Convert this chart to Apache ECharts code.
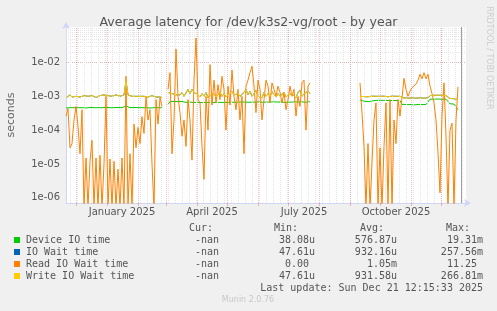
<!DOCTYPE html>
<html>
<head>
<meta charset="utf-8">
<script src="https://cdn.jsdelivr.net/npm/echarts@6/dist/echarts.min.js"></script>
<style>
html, body { margin: 0; padding: 0; background: #f0f0f0; }
#echarts_id { width: 497px; height: 311px; }
</style>
</head>
<body>
<div id="echarts_id"></div>
<script>
// x counted in days from 2024-11-21 (left edge of the year graph), one sample every 2 days
var step = 2;
var segStart = [0, 102, 294];

// month starts (red major grid) and the quarter labels (centred mid-month)
var monthStarts = [10, 41, 72, 100, 131, 161, 192, 222, 253, 284, 314, 345, 375];
var labelDays = [56, 146, 238, 330];
var tickLabels = ['January 2025', 'April 2025', 'July 2025', 'October 2025'];
var nowDay = 395;

// Device IO time
var deviceSeg1 = [4.5e-4, 4.6e-4, 4.6e-4, 4.5e-4, 4.6e-4, 4.7e-4, 4.6e-4, 4.5e-4, 4.6e-4, 4.6e-4,
    4.5e-4, 4.6e-4, 4.7e-4, 4.6e-4, 4.6e-4, 4.5e-4, 4.6e-4, 4.7e-4, 4.6e-4, 4.6e-4,
    4.7e-4, 4.6e-4, 4.6e-4, 4.7e-4, 4.6e-4, 4.6e-4, 4.7e-4, 4.6e-4, 4.6e-4, 4.7e-4,
    5.2e-4, 4.7e-4, 4.6e-4, 4.6e-4, 4.7e-4, 4.6e-4, 4.6e-4, 4.7e-4, 4.6e-4, 4.5e-4,
    4.6e-4, 4.6e-4, 4.5e-4, 4.6e-4, 4.6e-4, 4.5e-4, 4.6e-4, 4.5e-4, 4.6e-4];
var deviceSeg2 = [5.7e-4, 7.0e-4, 7.1e-4, 7.0e-4, 7.1e-4, 7.0e-4, 6.9e-4, 7.0e-4, 6.8e-4, 6.6e-4,
    6.6e-4, 6.7e-4, 6.6e-4, 6.6e-4, 6.7e-4, 6.6e-4, 6.6e-4, 6.5e-4, 6.6e-4, 6.6e-4,
    6.7e-4, 6.6e-4, 6.6e-4, 6.5e-4, 6.6e-4, 6.6e-4, 6.7e-4, 6.6e-4, 6.6e-4, 6.6e-4,
    6.7e-4, 6.6e-4, 6.6e-4, 6.7e-4, 6.8e-4, 6.7e-4, 6.7e-4, 6.8e-4, 6.7e-4, 6.7e-4,
    6.8e-4, 6.7e-4, 6.8e-4, 6.7e-4, 6.7e-4, 6.8e-4, 6.8e-4, 6.7e-4, 6.8e-4, 6.7e-4,
    6.8e-4, 6.8e-4, 6.7e-4, 6.8e-4, 6.7e-4, 6.8e-4, 6.8e-4, 6.7e-4, 6.8e-4, 6.6e-4,
    6.8e-4, 6.7e-4, 6.8e-4, 6.8e-4, 6.7e-4, 6.8e-4, 6.7e-4, 6.8e-4, 6.8e-4, 6.7e-4,
    6.8e-4, 6.9e-4];
var deviceSeg3 = [7.8e-4, 7.6e-4, 7.2e-4, 6.8e-4, 6.9e-4, 6.8e-4, 7.3e-4, 7.5e-4, 7.6e-4, 7.5e-4,
    7.6e-4, 7.5e-4, 7.6e-4, 7.6e-4, 7.5e-4, 7.6e-4, 7.5e-4, 7.6e-4, 7.5e-4, 7.4e-4, 7.5e-4,
    5.8e-4, 5.7e-4, 5.7e-4, 5.6e-4, 5.7e-4, 5.7e-4, 5.6e-4, 5.7e-4, 5.7e-4, 5.6e-4, 5.7e-4, 5.6e-4, 5.7e-4, 5.7e-4,
    8.2e-4, 8.3e-4, 8.3e-4, 8.2e-4, 8.3e-4, 8.3e-4, 8.2e-4, 8.3e-4, 8.2e-4,
    7.0e-4, 6.0e-4, 5.8e-4, 5.9e-4, 5.6e-4, 4.0e-4];

// Read IO Wait time (5e-7 = zero, drawn at the bottom edge)
var readSeg1 = [2.6e-4, 4.3e-4, 3e-5, 4e-5, 2e-4, 5e-4, 1.3e-4, 2e-5, 4e-4, 5e-7,
    1.5e-5, 5e-7, 1.2e-5, 5e-5, 5e-7, 1.5e-5, 5e-7, 1.8e-5, 5e-7, 1e-5,
    1e-3, 5e-7, 1.4e-5, 5e-7, 1.2e-5, 5e-7, 7e-6, 5e-7, 1.5e-5, 5e-7,
    3.9e-3, 5e-7, 2e-5, 5e-7, 1.5e-4, 3e-5, 1.2e-4, 4e-5, 2.5e-4, 8e-5,
    1e-3, 2e-4, 4e-4, 1e-5, 5e-7, 8e-4, 1.5e-4, 9e-4, 5e-4];
var readSeg2 = [1.6e-3, 5e-3, 2e-5, 2e-4, 2.5e-2,
    1e-3, 3.3e-4, 6.6e-5, 2e-4, 3.3e-5, 8e-4, 2e-4, 1.3e-5, 3e-3, 5.3e-2,
    8e-4, 6.4e-4, 3.3e-5, 3.5e-6, 1e-3, 1e-4, 8.6e-3, 5.5e-4, 3e-3, 6.4e-4,
    2.2e-3, 8e-4, 3.9e-3, 1.6e-3, 1e-4, 2e-3, 5.5e-4, 6e-3, 1e-3, 4e-4,
    1.6e-3, 2e-4, 1e-3, 2e-5, 2e-3, 3e-3, 5e-3, 7.7e-3, 2e-3, 3.3e-4,
    3e-3, 1.6e-3, 2e-4, 8e-4, 3e-3, 2e-3, 6.4e-4, 2.5e-3, 1.6e-3, 1e-3,
    2e-3, 1.3e-3, 6.4e-4, 1.3e-3, 4e-4, 8e-4, 2e-3, 1e-3, 1.6e-3, 2.6e-4,
    1e-3, 5e-4, 2.5e-3, 3e-3, 1e-4, 2e-3, 2.5e-3];
var readSeg3 = [2.5e-3, 3.2e-4, 3.3e-5, 5e-7, 4e-5, 5e-7, 1.1e-5, 2e-4, 6.4e-4, 5e-7,
    3e-5, 5e-7, 3.3e-5, 6.4e-4, 5e-7, 8e-4, 5e-7, 2e-4, 4e-5, 8e-4,
    2.6e-4, 9e-4, 3.4e-3, 1.6e-3, 1e-3, 1.4e-3, 1.8e-3, 2e-3, 2.3e-3, 3e-3,
    4.5e-3, 3.3e-3, 5e-3, 3.3e-3, 4.5e-3, 2e-3, 1.2e-3, 6.4e-4, 2e-4, 2.1e-5,
    1.4e-6, 2.6e-4, 2.5e-3, 6.6e-5, 5e-7, 1e-4, 1.6e-4, 5e-7, 2e-4, 1.9e-3];

// Write IO Wait time
var writeSeg1 = [9.0e-4, 1.0e-3, 1.1e-3, 9.5e-4, 1.05e-3, 1.0e-3, 1.1e-3, 9.5e-4, 1.0e-3, 1.05e-3,
    9.5e-4, 1.0e-3, 9.5e-4, 1.05e-3, 1.0e-3, 9.2e-4, 1.0e-3, 1.05e-3, 1.0e-3, 1.1e-3,
    1.0e-3, 1.05e-3, 1.1e-3, 1.0e-3, 1.05e-3, 1.1e-3, 1.05e-3, 1.0e-3, 1.05e-3, 1.1e-3,
    2.8e-3, 1.1e-3, 1.05e-3, 1.0e-3, 1.05e-3, 1.0e-3, 1.05e-3, 1.0e-3, 1.05e-3, 1.0e-3,
    1.05e-3, 9.5e-4, 1.0e-3, 1.05e-3, 1.0e-3, 9.5e-4, 1.0e-3, 9.5e-4, 9.2e-4];
var writeSeg2 = [1.3e-3, 1.25e-3, 1.2e-3, 1.3e-3, 1.1e-3,
    1.0e-3, 1.1e-3, 1.3e-3, 1.0e-3, 1.1e-3, 1.6e-3, 1.2e-3, 1.6e-3, 1.3e-3, 1.4e-3,
    1.1e-3, 9.5e-4, 1.2e-3, 1.0e-3, 1.3e-3, 9e-4, 1.1e-3, 1.0e-3, 1.2e-3, 9.5e-4,
    1.1e-3, 1.3e-3, 1.0e-3, 1.2e-3, 9.5e-4, 1.1e-3, 1.0e-3, 1.4e-3, 1.1e-3, 1.0e-3,
    1.2e-3, 1.0e-3, 9e-4, 1.3e-3, 1.6e-3, 1.1e-3, 1.4e-3, 1.0e-3, 1.2e-3, 1.5e-3,
    1.0e-3, 1.1e-3, 9e-4, 1.3e-3, 1.0e-3, 1.2e-3, 1.0e-3, 1.4e-3, 1.1e-3, 9.5e-4,
    1.2e-3, 1.0e-3, 1.1e-3, 1.3e-3, 9.5e-4, 1.1e-3, 1.0e-3, 1.2e-3, 1.1e-3, 9e-4,
    1.3e-3, 1.5e-3, 1.0e-3, 1.2e-3, 1.1e-3, 1.4e-3, 1.2e-3];
var writeSeg3 = [1.0e-3, 1.02e-3, 9.8e-4, 1.0e-3, 9.7e-4, 1.0e-3, 1.01e-3, 9.8e-4, 1.0e-3, 1.02e-3,
    1.0e-3, 9.8e-4, 1.01e-3, 1.0e-3, 9.7e-4, 1.0e-3, 1.01e-3, 9.8e-4, 1.0e-3, 1.01e-3, 1.0e-3,
    9.0e-4, 8.9e-4, 9.0e-4, 8.8e-4, 8.9e-4, 9.0e-4, 8.9e-4, 8.8e-4, 8.9e-4, 9.0e-4, 8.9e-4, 8.8e-4, 8.9e-4, 9.0e-4,
    1.05e-3, 1.1e-3, 1.08e-3, 1.1e-3, 1.07e-3, 1.1e-3, 1.08e-3, 1.1e-3, 1.05e-3,
    9.2e-4, 8.6e-4, 8.4e-4, 8.5e-4, 9.6e-4, 8.0e-4];

// IO Wait time is drawn under Write IO Wait time and reads the same off the picture
var ioWaitSeg1 = writeSeg1.slice();
var ioWaitSeg2 = writeSeg2.slice();
var ioWaitSeg3 = writeSeg3.slice();

// legend table
var legendNames = ['Device IO time', 'IO Wait time', 'Read IO Wait time', 'Write IO Wait time'];
var legendColors = ['#00cc00', '#0066b3', '#ff8000', '#ffcc00'];
var curVals = ['-nan', '-nan', '-nan', '-nan'];
var minVals = ['38.08u', '47.61u', '0.00 ', '47.61u'];
var avgVals = ['576.87u', '932.16u', '1.05m', '931.58u'];
var maxVals = ['19.31m', '257.56m', '11.25 ', '266.81m'];

function buildData(parts) {
    var out = [];
    parts.forEach(function (vals, s) {
        vals.forEach(function (v, i) {
            out.push([segStart[s] + i * step, v]);
        });
        out.push([segStart[s] + vals.length * step, '-']);
    });
    return out;
}

var myChart = echarts.init(document.getElementById('echarts_id'));

// grid lines (rrdtool style): grey dotted minor, red dotted major
var gridLines = [];
var gray = '#e4e4e4';
var red = 'rgba(230,120,120,0.45)';
for (var e = -7; e <= -1; e++) {
    for (var m = 1; m <= 9; m++) {
        var v = m * Math.pow(10, e);
        if (v < 7e-7 || v > 0.112) continue;
        var major = (m === 1 && e <= -2);
        gridLines.push({ yAxis: v, lineStyle: { color: major ? red : gray, type: [1, 1], width: 1 } });
    }
}
for (var w = 4; w < 400; w += 7) {
    gridLines.push({ xAxis: w, lineStyle: { color: gray, type: [1, 1], width: 1 } });
}
monthStarts.forEach(function (d) {
    gridLines.push({ xAxis: d, lineStyle: { color: red, type: [1, 1], width: 1 } });
});
gridLines.push({ xAxis: nowDay, lineStyle: { color: '#a0a0a0', type: 'solid', width: 1 } });

function lineSeries(name, color, parts, z) {
    return {
        name: name,
        type: 'line',
        data: buildData(parts),
        showSymbol: false,
        symbol: 'none',
        connectNulls: false,
        z: z,
        lineStyle: { color: color, width: 1 },
        itemStyle: { color: color }
    };
}

var legendGraphics = [];
var rowY = [240, 252, 264, 276];
var mono = '10px "DejaVu Sans Mono", monospace';
var txt = '#555555';
function addText(str, x, y, align) {
    legendGraphics.push({
        type: 'text', x: x, y: y,
        style: { text: str, fill: txt, font: mono, align: align, verticalAlign: 'middle' }
    });
}
addText('Cur:', 213, 228, 'right');
addText('Min:', 298, 228, 'right');
addText('Avg:', 384, 228, 'right');
addText('Max:', 470, 228, 'right');
legendNames.forEach(function (n, i) {
    legendGraphics.push({
        type: 'rect', shape: { x: 14, y: rowY[i] - 3, width: 6, height: 6 },
        style: { fill: legendColors[i] }
    });
    addText(n, 26, rowY[i], 'left');
    addText(curVals[i], 219, rowY[i], 'right');
    addText(minVals[i], 315, rowY[i], 'right');
    addText(avgVals[i], 397, rowY[i], 'right');
    addText(maxVals[i], 483, rowY[i], 'right');
});
addText('Last update: Sun Dec 21 12:15:33 2025', 483, 288, 'right');
legendGraphics.push({
    type: 'text', x: 248, y: 300,
    style: { text: 'Munin 2.0.76', fill: '#c8c8c8', font: '8px "DejaVu Sans"', align: 'center', verticalAlign: 'middle' }
});
legendGraphics.push({
    type: 'text', x: 11, y: 115, rotation: Math.PI / 2,
    style: { text: 'seconds', fill: '#666666', font: '11px "DejaVu Sans"', align: 'center', verticalAlign: 'middle' }
});
legendGraphics.push({
    type: 'text', x: 489, y: 58, rotation: -Math.PI / 2,
    style: { text: 'RRDTOOL / TOBI OETIKER', fill: '#cccccc', font: '8px "DejaVu Sans"', align: 'center', verticalAlign: 'middle' }
});

option = {
    backgroundColor: '#f0f0f0',
    animation: false,
    title: {
        text: 'Average latency for /dev/k3s2-vg/root - by year',
        left: 'center',
        top: 11,
        textStyle: { color: '#555555', fontSize: 12.6, fontWeight: 'normal', fontFamily: 'DejaVu Sans' }
    },
    grid: { left: 66, top: 27, width: 400, height: 176, backgroundColor: '#ffffff', show: true, borderWidth: 0 },
    xAxis: {
        type: 'value',
        min: 0,
        max: 400,
        splitLine: { show: false },
        axisLine: {
            lineStyle: { color: '#cfd6f8' },
            symbol: ['none', 'arrow'],
            symbolSize: [6, 7],
            symbolOffset: [0, 5]
        },
        axisTick: {
            show: true,
            customValues: monthStarts,
            length: 3,
            lineStyle: { color: 'rgba(230,120,120,0.5)' }
        },
        axisLabel: {
            customValues: labelDays,
            color: '#555555',
            fontSize: 10,
            fontFamily: 'DejaVu Sans',
            margin: 4,
            formatter: function (v) {
                var i = labelDays.indexOf(v);
                return i >= 0 ? tickLabels[i] : '';
            }
        }
    },
    yAxis: {
        type: 'log',
        logBase: 10,
        min: 7e-7,
        max: 0.112,
        splitLine: { show: false },
        axisTick: { show: false },
        axisLine: {
            show: true,
            lineStyle: { color: '#cfd6f8' },
            symbol: ['none', 'arrow'],
            symbolSize: [6, 7],
            symbolOffset: [0, 5]
        },
        axisLabel: {
            color: '#555555',
            fontSize: 10,
            fontFamily: 'DejaVu Sans',
            margin: 6,
            showMinLabel: false,
            showMaxLabel: false,
            formatter: function (v) {
                var e = Math.log(v) / Math.LN10;
                var r = Math.round(e);
                if (Math.abs(e - r) > 1e-6 || r > -2) return '';
                return '1e-0' + (-r);
            }
        }
    },
    graphic: legendGraphics,
    series: [
        {
            type: 'line',
            data: [],
            silent: true,
            z: 1,
            markLine: {
                silent: true,
                symbol: ['none', 'none'],
                label: { show: false },
                animation: false,
                data: gridLines
            }
        },
        lineSeries('Device IO time', legendColors[0], [deviceSeg1, deviceSeg2, deviceSeg3], 3),
        lineSeries('IO Wait time', legendColors[1], [ioWaitSeg1, ioWaitSeg2, ioWaitSeg3], 4),
        lineSeries('Read IO Wait time', legendColors[2], [readSeg1, readSeg2, readSeg3], 5),
        lineSeries('Write IO Wait time', legendColors[3], [writeSeg1, writeSeg2, writeSeg3], 6)
    ]
};

myChart.setOption(option);
</script>
</body>
</html>
